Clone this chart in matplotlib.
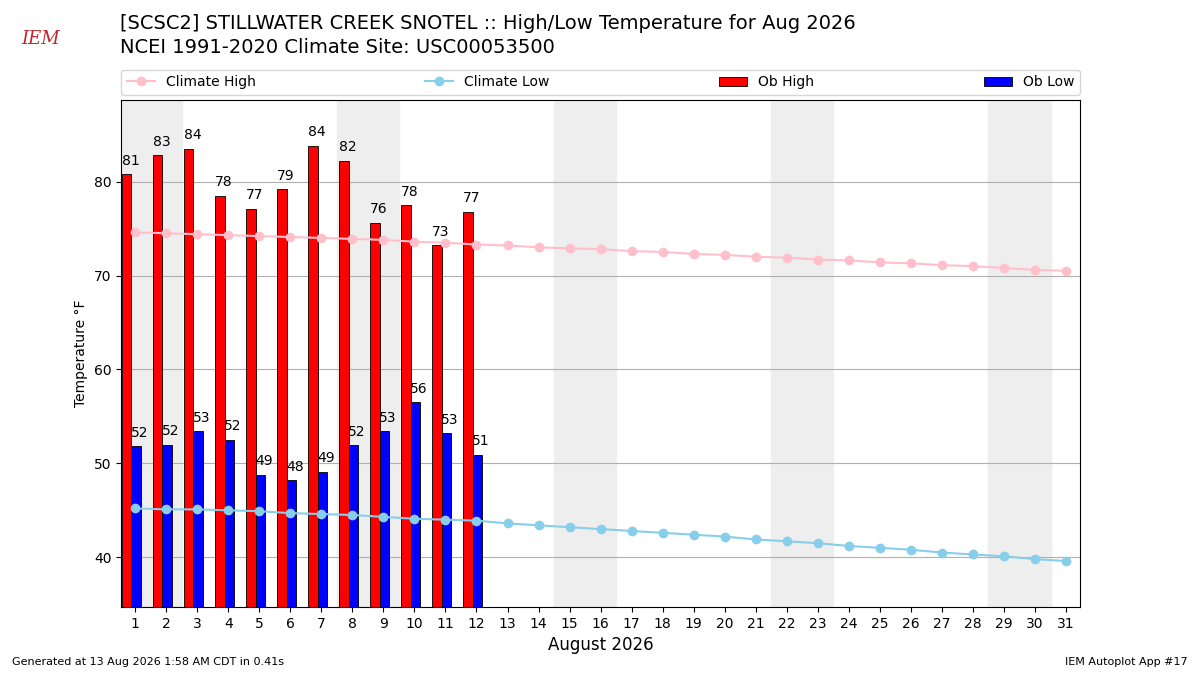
import matplotlib
matplotlib.use("Agg")
import matplotlib.pyplot as plt
import numpy as np

days = np.arange(1, 32)
ob_days = np.arange(1, 13)
ob_high = [80.8, 82.8, 83.5, 78.5, 77.1, 79.2, 83.8, 82.2, 75.6, 77.5, 73.2, 76.8]
ob_low = [51.8, 52.0, 53.4, 52.5, 48.8, 48.2, 49.1, 51.9, 53.4, 56.5, 53.2, 50.9]
clim_high = [74.6, 74.5, 74.4, 74.3, 74.2, 74.1, 74.0, 73.9, 73.8, 73.6, 73.5, 73.3,
             73.2, 73.0, 72.9, 72.8, 72.6, 72.5, 72.3, 72.2, 72.0, 71.9, 71.7, 71.6,
             71.4, 71.3, 71.1, 71.0, 70.8, 70.6, 70.5]
clim_low = [45.2, 45.1, 45.1, 45.0, 44.9, 44.7, 44.6, 44.5, 44.3, 44.1, 44.0, 43.9,
            43.6, 43.4, 43.2, 43.0, 42.8, 42.6, 42.4, 42.2, 41.9, 41.7, 41.5, 41.2,
            41.0, 40.8, 40.5, 40.3, 40.1, 39.8, 39.6]
weekend_starts = [1, 8, 15, 22, 29]

fig = plt.figure(figsize=(12, 6.75), dpi=100)
ax = fig.add_axes([0.101, 0.1007, 0.799, 0.7513])

for d in weekend_starts:
    ax.axvspan(d - 0.5, d + 1.5, color="#eeeeee", zorder=0)

ax.grid(axis="y", color="#b0b0b0", zorder=1)
ax.set_axisbelow(True)

lh, = ax.plot(days, clim_high, "-o", color="pink", zorder=3, label="Climate High")
ll, = ax.plot(days, clim_low, "-o", color="skyblue", zorder=3, label="Climate Low")
bh = ax.bar(ob_days - 0.42, ob_high, width=0.3, align="edge", color="red",
            edgecolor="black", linewidth=0.6, zorder=2, label="Ob High")
bl = ax.bar(ob_days - 0.12, ob_low, width=0.3, align="edge", color="blue",
            edgecolor="black", linewidth=0.6, zorder=2, label="Ob Low")
for d, v in zip(ob_days, ob_high):
    ax.text(d - 0.15, v + 0.7, f"{v:.0f}", ha="center", va="bottom", fontsize=10)
for d, v in zip(ob_days, ob_low):
    ax.text(d + 0.15, v + 0.7, f"{v:.0f}", ha="center", va="bottom", fontsize=10)

ax.set_xlim(0.55, 31.45)
ax.set_ylim(34.7, 88.7)
ax.set_xticks(days)
ax.set_yticks([40, 50, 60, 70, 80])
ax.set_ylabel("Temperature °F")
ax.set_xlabel("August 2026", fontsize=12)

ax.legend(handles=[lh, ll, bh, bl], ncol=4, mode="expand",
          bbox_to_anchor=(0, 1.01, 1, 0.05), loc="lower left", fontsize=10,
          borderaxespad=0)

fig.text(0.1, 0.965, "[SCSC2] STILLWATER CREEK SNOTEL :: High/Low Temperature for Aug 2026",
         fontsize=14, va="center")
fig.text(0.1, 0.93, "NCEI 1991-2020 Climate Site: USC00053500", fontsize=14, va="center")
fig.text(0.018, 0.935, "IEM", color="#c0262d", fontsize=13, style="italic", family="serif")
fig.text(0.01, 0.015, "Generated at 13 Aug 2026 1:58 AM CDT in 0.41s", fontsize=8)
fig.text(0.99, 0.015, "IEM Autoplot App #17", fontsize=8, ha="right")

fig.savefig("out.png", dpi=100)
